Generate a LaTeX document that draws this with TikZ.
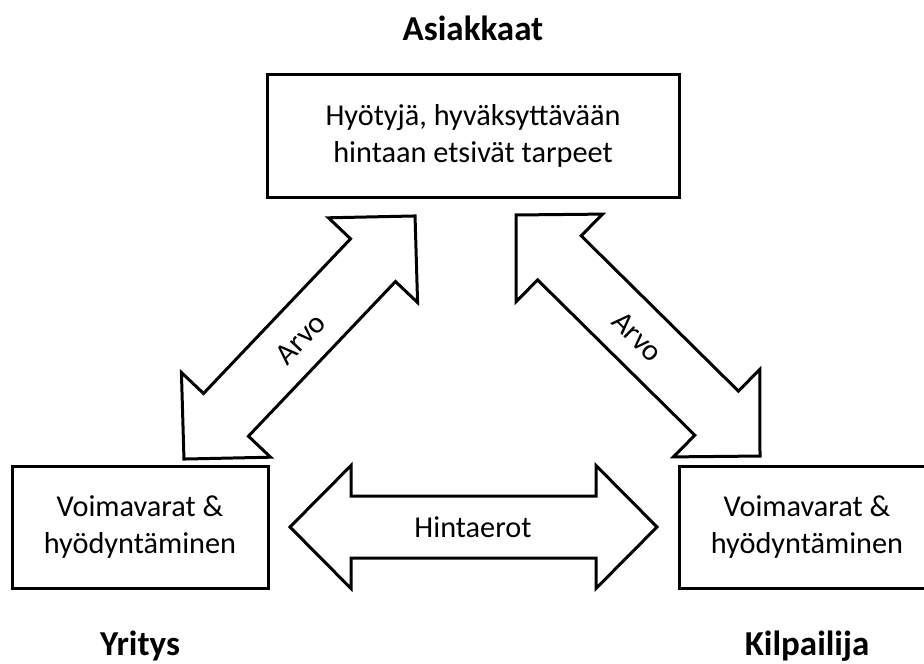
\documentclass[tikz,border=0pt]{standalone}
\usepackage{fontspec}
\setmainfont{Carlito}
% Block double arrow: #1 centre, #2 angle, #3 half length (tip to centre)
\newcommand\blockdouble[3]{%
  \begin{scope}[shift={#1}, rotate=#2]
    \draw[blockarrow] (-#3,0) -- (-#3+61,61.5) -- (-#3+61,31) -- (#3-61,31)
      -- (#3-61,61.5) -- (#3,0) -- (#3-61,-61.5) -- (#3-61,-31)
      -- (-#3+61,-31) -- (-#3+61,-61.5) -- cycle;
  \end{scope}}
\begin{document}
\begin{tikzpicture}[x=1pt,y=-1pt,
  box/.style={draw, line width=3pt, inner sep=0pt, align=center,
    font=\fontsize{30.3}{37}\selectfont},
  blockarrow/.style={draw, line width=3pt, line join=miter, fill=white},
  arrowtext/.style={font=\fontsize{30.3}{37}\selectfont, inner sep=0pt},
  heading/.style={font=\fontsize{35}{42}\selectfont\bfseries, inner sep=0pt}]
\useasboundingbox (0,0) rectangle (924,664);
\clip (0,0) rectangle (924,664);

% actors
\node[heading, anchor=base] (asiakkaat) at (473,40) {Asiakkaat};
\node[heading, anchor=base] (yritys) at (140,655) {Yritys};
\node[heading, anchor=base] (kilpailija) at (807,655) {Kilpailija};

% boxes
\node[box, minimum width=412, minimum height=123] (tarpeet) at (473,135.5)
  {Hyötyjä, hyväksyttävään\\hintaan etsivät tarpeet};
\node[box, minimum width=256, minimum height=122] (yritysbox) at (140,527)
  {Voimavarat \&\\hyödyntäminen};
\node[box, minimum width=256, minimum height=122] (kilpbox) at (807,527)
  {Voimavarat \&\\hyödyntäminen};

% value arrows and price-difference arrow
\blockdouble{(299.5,337.5)}{46.45}{167.7}
\node[arrowtext, rotate=46.45] (arvoL) at (300.5,339) {Arvo};
\blockdouble{(638,335.5)}{-44.65}{171.5}
\node[arrowtext, rotate=-44.65] (arvoR) at (637.5,336.5) {Arvo};
\blockdouble{(473.5,527)}{0}{183.5}
\node[arrowtext] (hinta) at (473,527) {Hintaerot};
\end{tikzpicture}
\end{document}
